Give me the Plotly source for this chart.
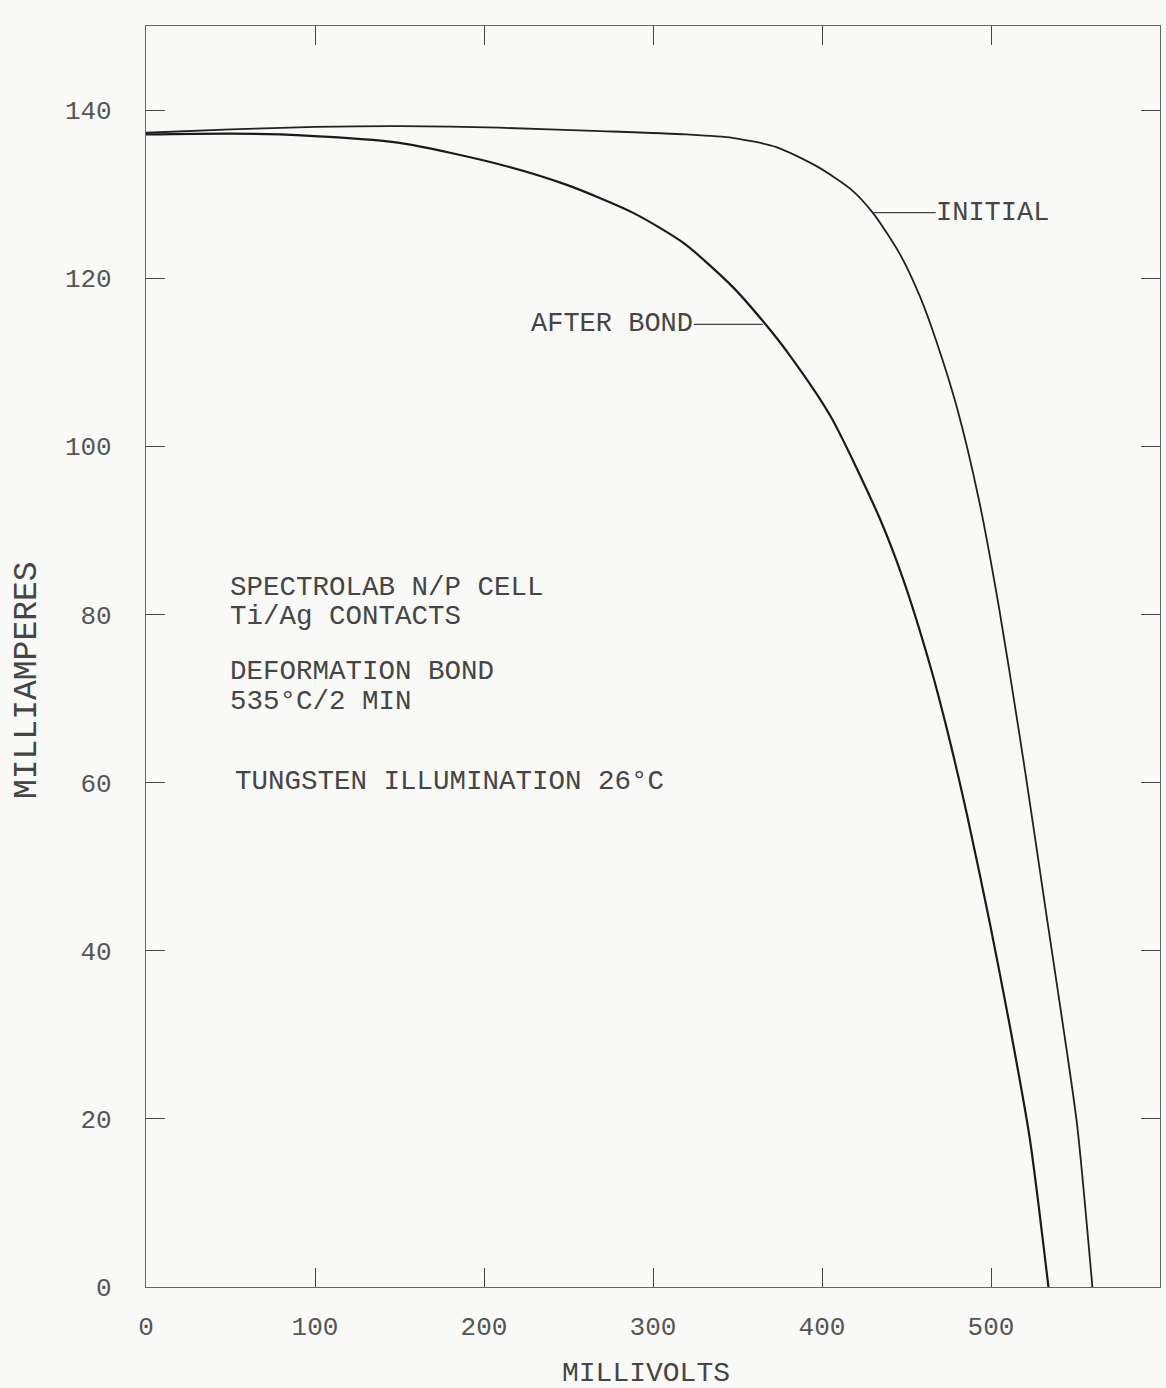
import plotly.graph_objects as go

# ---- data ----
initial_mv = [0, 50, 100, 150, 209, 269, 320, 347, 373, 397, 417, 430, 446, 458, 468, 480, 493, 505, 517, 523, 533, 543, 551, 560]
initial_ma = [137.3, 137.7, 138.0, 138.1, 137.9, 137.5, 137.1, 136.7, 135.6, 133.3, 130.6, 127.8, 122.9, 117.8, 112.3, 104.5, 93.5, 80.5, 65.5, 57.6, 44.0, 30.6, 19.2, 0]

after_mv = [0, 50, 92, 150, 210, 249, 288, 318, 347, 365, 381, 405, 434, 448, 464, 474, 486, 499, 511, 523, 534]
after_ma = [137.1, 137.2, 137.0, 136.1, 133.5, 131.1, 127.8, 124.2, 119.0, 114.9, 110.8, 103.6, 91.5, 84.2, 73.9, 66.3, 56.0, 43.6, 31.2, 17.6, 0]

x_ticks = [0, 100, 200, 300, 400, 500]
y_ticks = [0, 20, 40, 60, 80, 100, 120, 140]

notes = ["SPECTROLAB N/P CELL", "Ti/Ag CONTACTS", "DEFORMATION BOND", "535°C/2 MIN", "TUNGSTEN ILLUMINATION 26°C"]
note_x = [48.5, 48.5, 48.5, 48.5, 51.5]
note_y = [83.2, 79.7, 73.2, 69.6, 60.1]

FONT = "Liberation Mono, Courier New, monospace"
INK = "#454545"

fig = go.Figure()
fig.add_trace(go.Scatter(x=initial_mv, y=initial_ma, mode="lines", name="INITIAL",
                         line=dict(color="#222222", width=1.8, shape="spline", smoothing=0.7)))
fig.add_trace(go.Scatter(x=after_mv, y=after_ma, mode="lines", name="AFTER BOND",
                         line=dict(color="#1a1a1a", width=2.2, shape="spline", smoothing=0.7)))

# curve labels with leader lines
fig.add_annotation(x=430, y=127.8, xref="x", yref="y", ax=501, ay=127.8, axref="x", ayref="y",
                   text="INITIAL", showarrow=True, arrowhead=0, arrowwidth=1.2, arrowcolor="#444",
                   font=dict(family=FONT, size=27, color=INK), borderpad=0, standoff=0)
fig.add_annotation(x=365, y=114.5, xref="x", yref="y", ax=276, ay=114.5, axref="x", ayref="y",
                   text="AFTER BOND", showarrow=True, arrowhead=0, arrowwidth=1.2, arrowcolor="#444",
                   font=dict(family=FONT, size=27, color=INK), borderpad=0, standoff=0)

for t, xv, yv in zip(notes, note_x, note_y):
    fig.add_annotation(x=xv, y=yv, xref="x", yref="y", text=t, showarrow=False,
                       xanchor="left", yanchor="middle",
                       font=dict(family=FONT, size=27.5, color=INK))

# axis titles
fig.add_annotation(x=0, y=72.2, xref="paper", yref="y", xshift=-119, text="MILLIAMPERES",
                   textangle=-90, showarrow=False, xanchor="center", yanchor="middle",
                   font=dict(family=FONT, size=33, color=INK))
fig.add_annotation(x=296, y=0, xref="x", yref="paper", yshift=-86, text="MILLIVOLTS",
                   showarrow=False, xanchor="center", yanchor="middle",
                   font=dict(family=FONT, size=28, color=INK))

axis_common = dict(showgrid=False, zeroline=False, showline=True, linecolor="#666",
                   linewidth=1.2, ticks="inside", ticklen=19, tickwidth=1.4, tickcolor="#444",
                   mirror="ticks", tickfont=dict(family=FONT, size=26, color="#555"))

fig.update_layout(
    width=1166, height=1388,
    margin=dict(l=146, r=6, t=26, b=101),
    paper_bgcolor="#f9f9f7", plot_bgcolor="#f9f9f7",
    showlegend=False,
    xaxis=dict(range=[0, 600], tickvals=x_ticks, ticktext=[str(v) for v in x_ticks],
               ticklabelstandoff=16, **axis_common),
    yaxis=dict(range=[0, 150], tickvals=y_ticks, ticktext=[str(v) for v in y_ticks],
               ticklabelstandoff=28, **axis_common),
)

fig.write_html("out.html")
